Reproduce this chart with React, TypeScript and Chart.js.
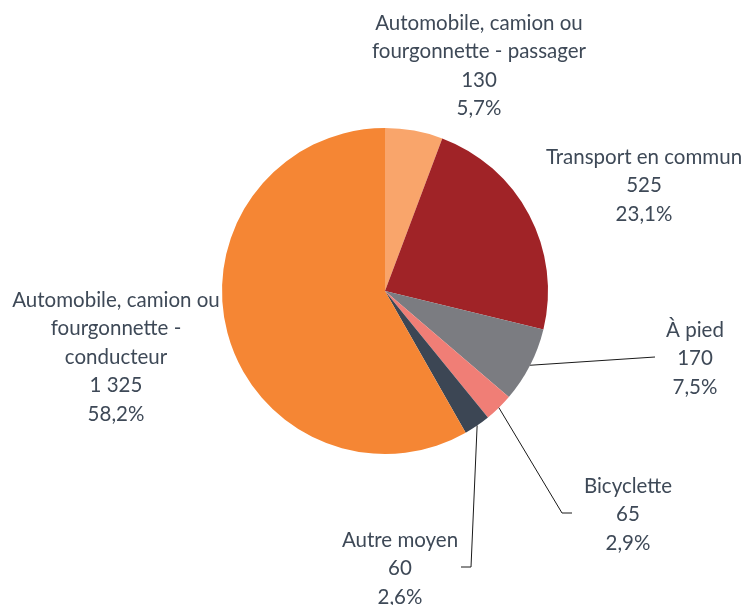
import React, { useEffect, useRef } from "react";
import { Chart, registerables } from "chart.js";

Chart.register(...registerables);

const categories: string[][] = [
  ["Automobile, camion ou", "fourgonnette - passager"],
  ["Transport en commun"],
  ["À pied"],
  ["Bicyclette"],
  ["Autre moyen"],
  ["Automobile, camion ou", "fourgonnette -", "conducteur"],
];
const values: number[] = [130, 525, 170, 65, 60, 1325];
const colors: string[] = ["#F9A56B", "#A02327", "#7B7C81", "#F07E76", "#3C4654", "#F58634"];

// label anchor (text centre x, first line centre y) and optional leader line end points
const labelPos: { x: number; y: number; line?: [number, number][] }[] = [
  { x: 479, y: 23 },
  { x: 644, y: 157 },
  { x: 695, y: 330, line: [[655, 357]] },
  { x: 628, y: 486, line: [[562, 513], [572, 513]] },
  { x: 400, y: 540, line: [[471, 567], [461, 567]] },
  { x: 116, y: 300 },
];

const FONT = "20.5px Lato";
const LINE_H = 28.5;
const TEXT_COLOR = "#3E4957";

function fmtValue(v: number): string {
  return String(v).replace(/\B(?=(\d{3})+(?!\d))/g, " ");
}

const labelPlugin = {
  id: "pieLabels",
  afterDraw(chart: any) {
    const ctx = chart.ctx as CanvasRenderingContext2D;
    const meta = chart.getDatasetMeta(0);
    const data = chart.data.datasets[0].data as number[];
    const total = data.reduce((a, b) => a + b, 0);
    ctx.save();
    meta.data.forEach((arc: any, i: number) => {
      const p = labelPos[i];
      if (p.line) {
        const mid = (arc.startAngle + arc.endAngle) / 2;
        const sx = arc.x + Math.cos(mid) * arc.outerRadius;
        const sy = arc.y + Math.sin(mid) * arc.outerRadius;
        ctx.beginPath();
        ctx.moveTo(sx, sy);
        p.line.forEach(([x, y]) => ctx.lineTo(x, y));
        ctx.strokeStyle = "#1a1a1a";
        ctx.lineWidth = 1;
        ctx.stroke();
      }
      const lines = [
        ...categories[i],
        fmtValue(data[i]),
        ((data[i] / total) * 100).toFixed(1).replace(".", ",") + "%",
      ];
      ctx.font = FONT;
      ctx.fillStyle = TEXT_COLOR;
      ctx.textAlign = "center";
      ctx.textBaseline = "middle";
      lines.forEach((t, k) => ctx.fillText(t, p.x, p.y + k * LINE_H));
    });
    ctx.restore();
  },
};

export default function App() {
  const ref = useRef<HTMLCanvasElement>(null);
  useEffect(() => {
    if (!ref.current) return;
    const chart = new Chart(ref.current, {
      type: "pie",
      data: {
        labels: categories.map((c) => c.join(" ")),
        datasets: [
          {
            data: values,
            backgroundColor: colors,
            borderWidth: 0,
          },
        ],
      },
      options: {
        responsive: false,
        animation: false,
        layout: { padding: { left: 222, right: 198, top: 128, bottom: 151 } },
        plugins: { legend: { display: false }, tooltip: { enabled: false } },
      },
      plugins: [labelPlugin],
    });
    return () => chart.destroy();
  }, []);
  return (
    <div style={{ position: "absolute", left: 0, top: 0, width: 746, height: 605, background: "#fff" }}>
      <canvas ref={ref} width={746} height={605} />
    </div>
  );
}
